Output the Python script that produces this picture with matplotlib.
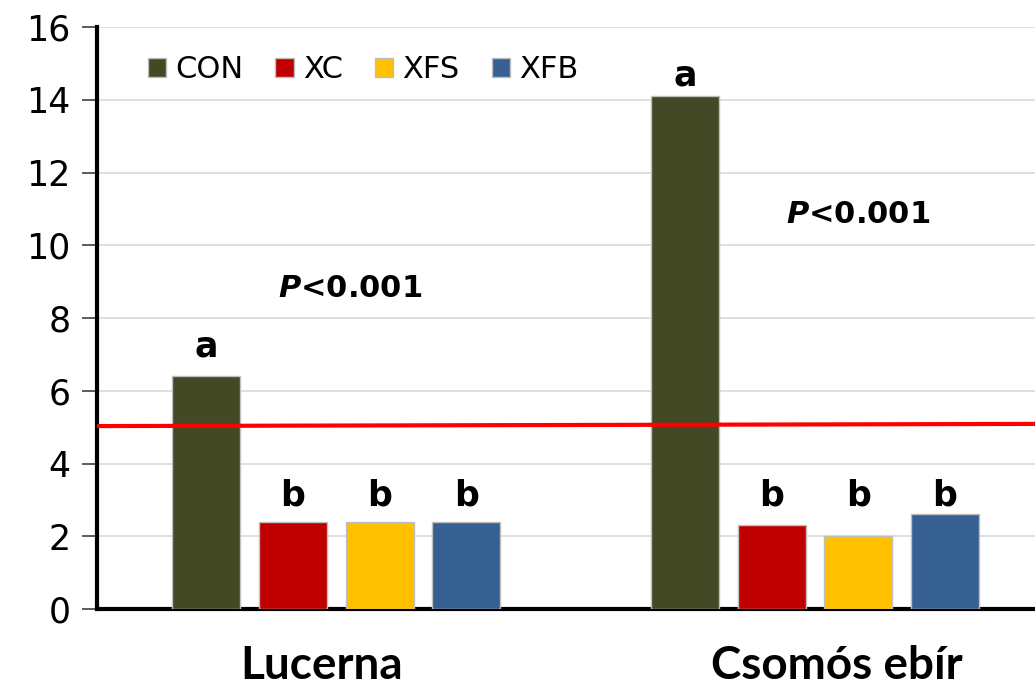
import numpy as np
import matplotlib.pyplot as plt
from matplotlib.patches import Patch

groups = ['Lucerna', 'Csomós ebír']
group_label_x = [-0.03, 1.045]
treatments = ['CON', 'XC', 'XFS', 'XFB']
colors = ['#434925', '#c00000', '#ffc000', '#376092']

values = {
    'CON': [6.4, 14.1],
    'XC': [2.4, 2.3],
    'XFS': [2.4, 2.0],
    'XFB': [2.4, 2.6],
}
letters = {
    'CON': ['a', 'a'],
    'XC': ['b', 'b'],
    'XFS': ['b', 'b'],
    'XFB': ['b', 'b'],
}
# baseline height of each significance letter
letter_y = {
    'CON': [6.95, 14.4],
    'XC': [2.85, 2.85],
    'XFS': [2.85, 2.85],
    'XFB': [2.85, 2.85],
}
p_text = ['$\\mathbfit{P}$<0.001', '$\\mathbfit{P}$<0.001']
p_pos = [(0.03, 8.8), (1.09, 10.85)]
threshold = [5.03, 5.09]

fig = plt.figure(figsize=(10.35, 6.87), dpi=100)
ax = fig.add_axes([0.0937, 0.1135, 0.9063, 0.847])

x = np.arange(len(groups))
width = 0.142
pitch = 0.181

for i, t in enumerate(treatments):
    xs = x + (i - 1.5) * pitch
    ax.bar(xs, values[t], width, color=colors[i], edgecolor='#bfbfbf',
           linewidth=1, zorder=3)
    for xi, ly, lab in zip(xs, letter_y[t], letters[t]):
        ax.text(xi, ly, lab, ha='center', va='baseline',
                fontsize=25, fontweight='bold', zorder=4)

for (px, py), s in zip(p_pos, p_text):
    ax.text(px, py, s, ha='center', va='center', fontsize=22,
            fontweight='bold')

ax.set_xlim(-0.5, 1.46)
ax.set_ylim(0, 16)
ax.plot([-0.5, 1.46], threshold, color='#ff0000', linewidth=3, zorder=5,
        solid_capstyle='butt')

ax.set_yticks(np.arange(0, 17, 2))
ax.yaxis.grid(True, color='#d9d9d9', linewidth=1.2, zorder=0)
ax.set_axisbelow(True)
ax.tick_params(axis='y', labelsize=25, length=11, width=1.2,
               color='#404040', pad=8)
ax.set_xticks(group_label_x)
ax.set_xticklabels(groups, fontsize=33, fontweight='bold', family='Lato')
ax.tick_params(axis='x', length=0, pad=26)

for side in ['top', 'right']:
    ax.spines[side].set_visible(False)
for side in ['left', 'bottom']:
    ax.spines[side].set_linewidth(3)

handles = [Patch(facecolor=c, edgecolor='#bfbfbf') for c in colors]
ax.legend(handles, treatments, ncol=4, loc='upper left',
          bbox_to_anchor=(0.054, 0.952), frameon=False, fontsize=22,
          borderpad=0, borderaxespad=0,
          handlelength=0.6, handleheight=0.6, handletextpad=0.3,
          columnspacing=1.05)

fig.savefig('out.png', dpi=100)
